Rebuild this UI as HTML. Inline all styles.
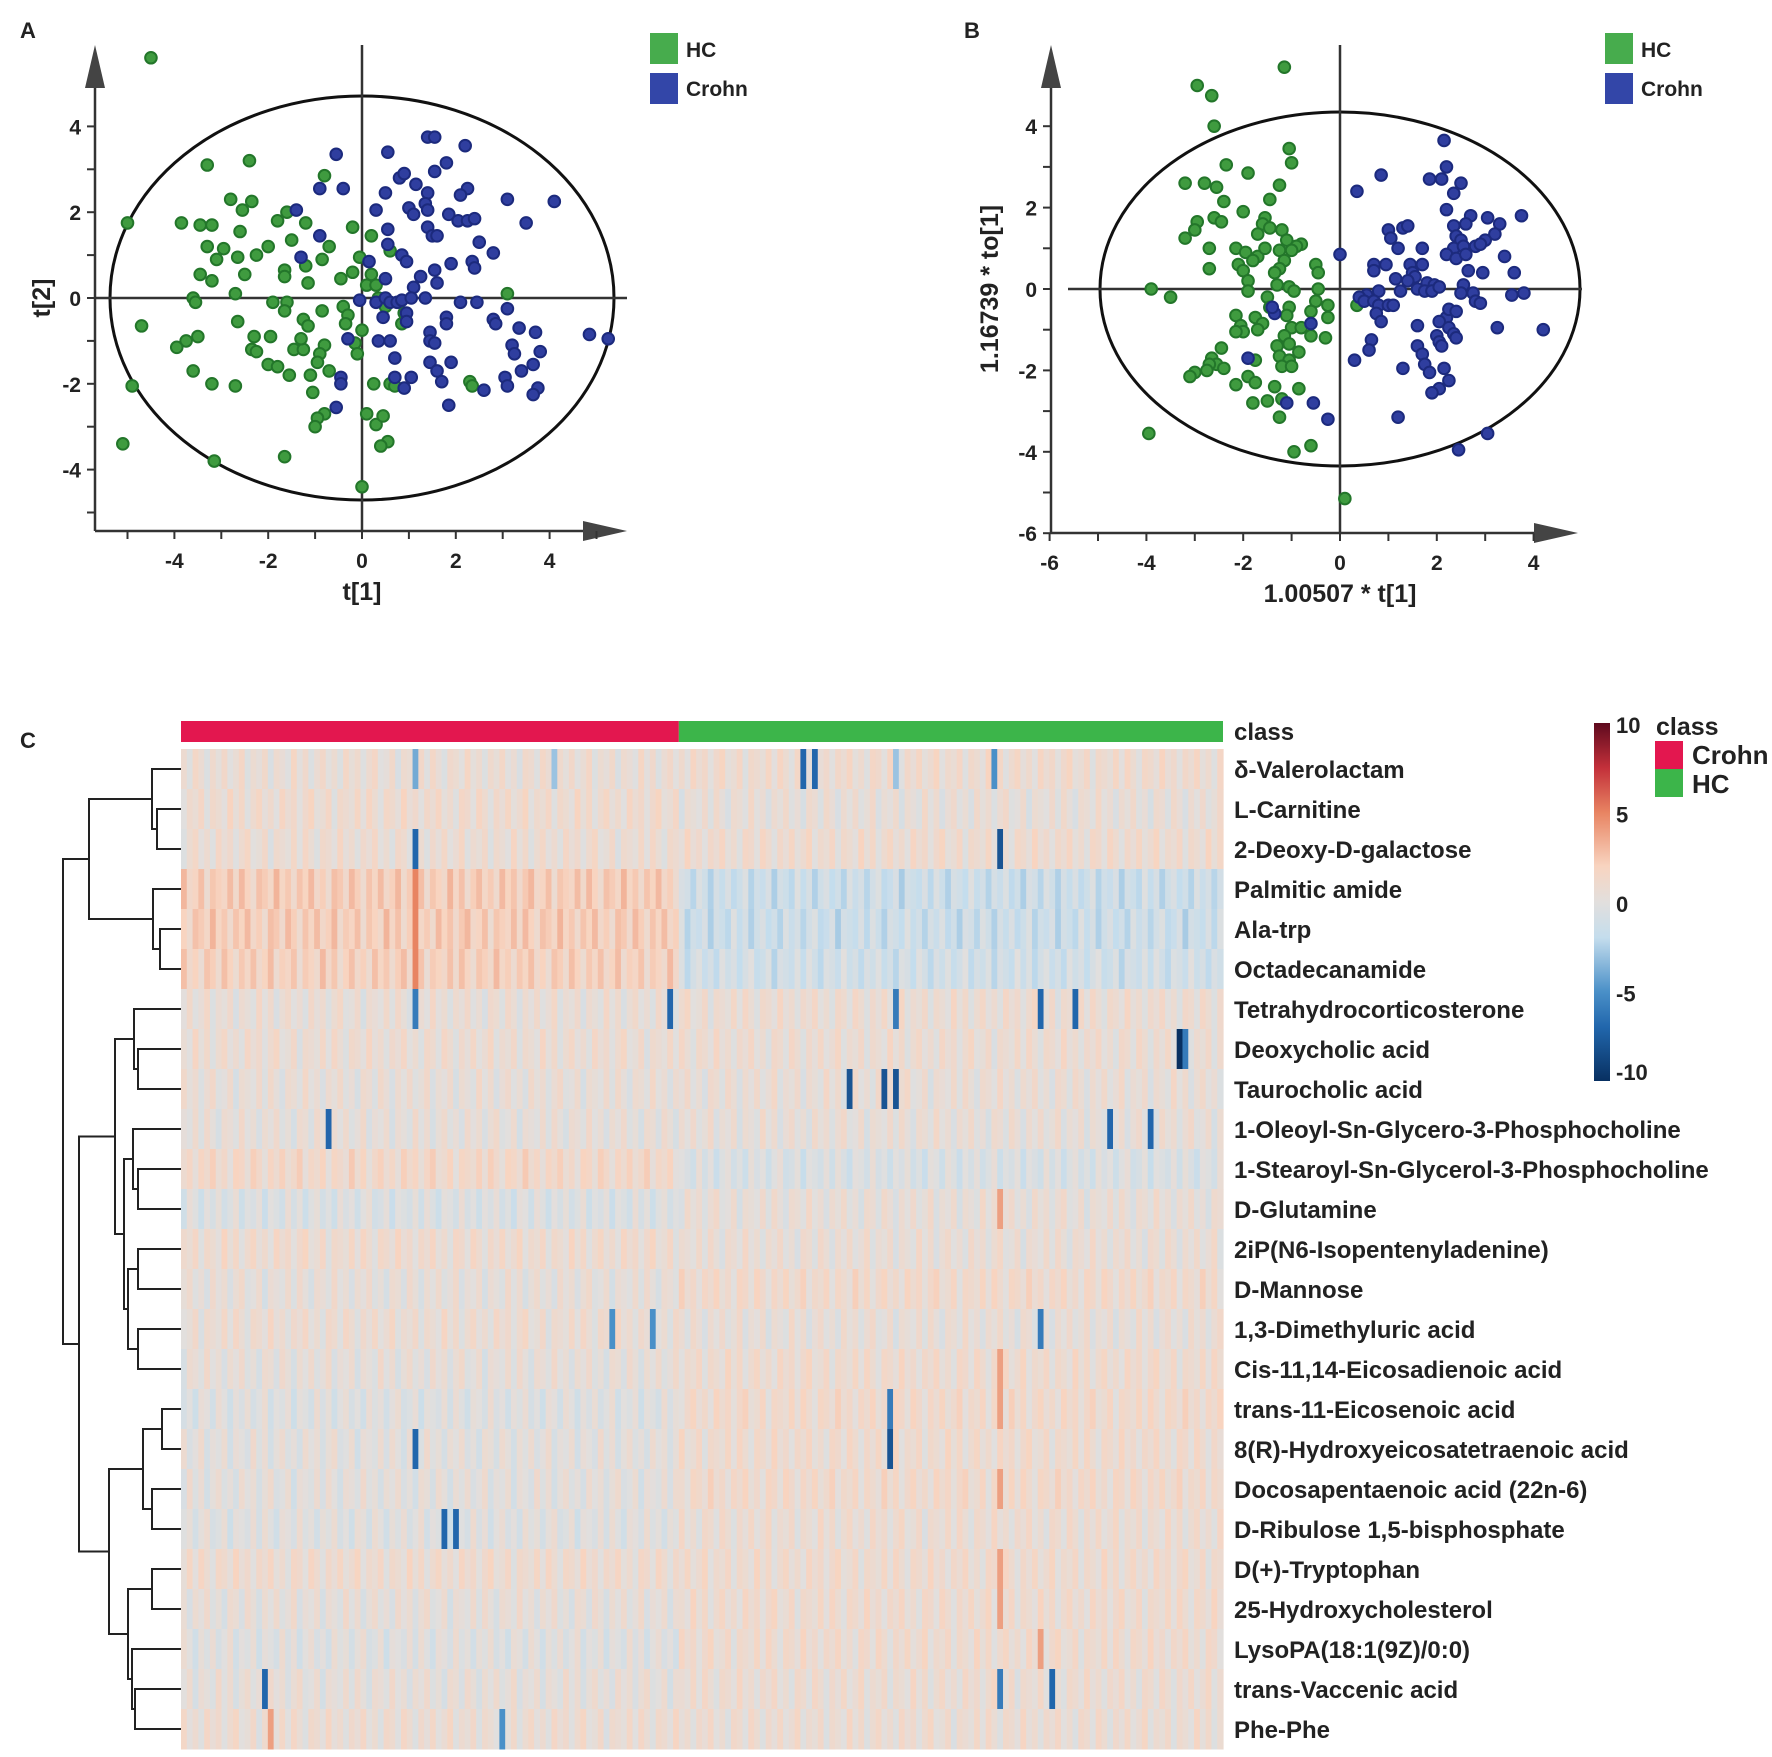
<!DOCTYPE html>
<html><head><meta charset="utf-8">
<style>
html,body{margin:0;padding:0;background:#fff;}
body{width:1772px;height:1757px;overflow:hidden;position:relative;font-family:"Liberation Sans",Arial,sans-serif;}
svg{position:absolute;left:0;top:0;}
text{font-family:"Liberation Sans",Arial,sans-serif;font-weight:bold;fill:#222;}
</style></head>
<body>
<svg id="fig" width="1772" height="1757" viewBox="0 0 1772 1757"></svg>
<script>
// ---------- DATA ----------
const hcA=[[-4.5,5.6],[-5.0,1.75],[-4.9,-2.05],[-5.1,-3.4],[-4.7,-0.65],[-3.3,3.1],[-2.4,3.2],[-2.8,2.3],[-2.35,2.25],[-2.55,2.05],[-3.85,1.75],[-3.45,1.7],[-3.2,1.7],[-1.8,1.8],[-1.6,2.0],[-1.2,1.75],[-0.8,2.85],[-0.2,1.65],[-2.6,1.55],[-3.3,1.2],[-2.95,1.15],[-2.0,1.2],[-1.5,1.35],[-0.7,1.2],[0.2,1.45],[-3.1,0.9],[-2.65,0.95],[-2.25,1.0],[-1.65,0.65],[-1.2,0.75],[-0.85,0.9],[-0.05,0.95],[-3.45,0.55],[-3.2,0.4],[-2.5,0.55],[-1.65,0.5],[-1.15,0.35],[-0.45,0.45],[-0.2,0.6],[0.1,0.3],[0.3,0.3],[0.35,0.0],[-2.7,0.1],[-3.6,0.0],[-3.55,-0.1],[-1.9,-0.1],[-1.6,-0.1],[-1.65,-0.3],[-0.85,-0.3],[-0.4,-0.2],[-0.3,-0.4],[-2.65,-0.55],[-1.25,-0.5],[-1.15,-0.65],[-0.35,-0.6],[0.0,-0.75],[-3.5,-0.9],[-3.75,-1.0],[-3.95,-1.15],[-2.3,-0.9],[-1.95,-0.9],[-2.35,-1.2],[-2.25,-1.25],[-1.45,-1.2],[-1.25,-1.2],[-1.3,-0.95],[-0.8,-1.1],[-0.9,-1.3],[-0.95,-1.5],[-1.1,-1.8],[-0.7,-1.7],[-0.15,-1.05],[-0.1,-1.3],[-2.0,-1.55],[-1.8,-1.6],[-1.55,-1.8],[-3.6,-1.7],[-3.2,-2.0],[-2.7,-2.05],[-1.05,-2.2],[-0.8,-2.7],[-0.95,-2.8],[-1.0,-3.0],[0.1,-2.7],[0.3,-2.95],[0.45,-2.75],[0.55,-3.35],[0.4,-3.45],[-1.65,-3.7],[-3.15,-3.8],[0.0,-4.4],[0.25,-2.0],[0.6,-2.0],[0.7,-2.05],[2.3,-1.95],[2.35,-2.05],[3.1,0.1],[0.85,-0.6],[0.5,-0.2],[0.6,1.1],[0.2,0.55],[0.9,-0.35]];
const crohnA=[[-0.55,3.35],[-0.4,2.55],[-0.9,2.55],[-1.4,2.05],[-0.9,1.45],[-1.3,0.95],[0.15,0.85],[0.3,-0.1],[0.55,3.4],[0.5,2.45],[0.3,2.05],[0.55,1.6],[0.55,1.25],[0.85,1.0],[0.95,0.85],[0.8,2.8],[0.9,2.9],[1.15,2.65],[1.4,2.45],[1.35,2.2],[1.0,2.1],[1.1,1.95],[1.4,2.05],[1.4,1.65],[1.5,1.45],[1.6,1.45],[1.4,3.75],[1.55,3.75],[1.8,3.15],[1.55,2.95],[2.2,3.55],[2.25,2.55],[2.1,2.4],[1.85,1.95],[2.05,1.8],[2.25,1.8],[2.4,1.85],[2.5,1.3],[2.8,1.05],[3.1,2.3],[3.5,1.75],[4.1,2.25],[1.9,0.8],[2.35,0.85],[2.4,0.7],[1.55,0.65],[1.25,0.5],[1.1,0.25],[1.6,0.35],[0.5,0.45],[0.5,0.0],[0.6,-0.1],[0.75,-0.1],[0.85,-0.05],[1.05,0.0],[1.35,0.0],[2.1,-0.1],[2.45,-0.1],[0.95,-0.35],[0.95,-0.55],[0.45,-0.45],[1.45,-0.8],[1.45,-1.0],[1.55,-1.05],[1.8,-0.45],[1.8,-0.6],[2.8,-0.5],[2.85,-0.6],[3.1,-0.25],[3.35,-0.7],[3.7,-0.8],[3.2,-1.1],[3.25,-1.3],[3.8,-1.25],[3.65,-1.55],[3.4,-1.7],[3.05,-1.85],[3.1,-2.05],[3.75,-2.1],[3.65,-2.25],[4.85,-0.85],[5.25,-0.95],[0.35,-1.0],[0.6,-1.0],[0.7,-1.4],[1.45,-1.5],[1.6,-1.7],[1.9,-1.5],[0.7,-1.85],[0.9,-2.1],[1.05,-1.85],[1.7,-1.95],[2.6,-2.15],[1.85,-2.5],[-0.45,-1.85],[-0.45,-2.0],[-0.55,-2.55],[-0.3,-0.95],[-0.05,-0.05]];
const hcB=[[-1.15,5.45],[-2.95,5.0],[-2.65,4.75],[-2.6,4.0],[-1.05,3.45],[-1.0,3.1],[-2.35,3.05],[-1.9,2.85],[-3.2,2.6],[-2.8,2.6],[-2.55,2.5],[-1.25,2.55],[-2.4,2.15],[-1.45,2.2],[-2.6,1.75],[-2.45,1.65],[-2.0,1.9],[-1.55,1.75],[-1.6,1.6],[-2.95,1.65],[-3.0,1.45],[-3.2,1.25],[-1.7,1.35],[-1.45,1.5],[-1.2,1.45],[-1.1,1.2],[-0.8,1.1],[-0.9,1.05],[-1.25,0.95],[-1.0,0.95],[-2.7,1.0],[-2.15,1.0],[-1.95,0.9],[-1.7,0.8],[-1.55,1.0],[-1.8,0.7],[-1.15,0.7],[-1.25,0.5],[-1.35,0.4],[-0.5,0.6],[-0.45,0.4],[-2.7,0.5],[-2.1,0.6],[-2.0,0.45],[-1.9,0.2],[-1.3,0.1],[-1.05,0.05],[-0.95,-0.05],[-0.45,0.0],[-0.5,-0.3],[-0.25,-0.4],[-0.25,-0.7],[-1.9,-0.05],[-1.5,-0.2],[-3.9,0.0],[-3.5,-0.2],[-1.45,-0.45],[-1.05,-0.45],[-0.6,-0.55],[-1.1,-0.65],[-2.15,-0.65],[-1.75,-0.7],[-2.05,-0.9],[-1.6,-0.85],[-2.0,-1.05],[-2.15,-1.05],[-1.7,-1.0],[-1.0,-0.95],[-0.8,-0.95],[-1.15,-1.15],[-0.6,-1.15],[-0.3,-1.2],[-1.3,-1.4],[-1.05,-1.35],[-2.45,-1.45],[-2.65,-1.7],[-2.55,-1.85],[-2.7,-1.85],[-2.4,-1.95],[-2.75,-2.0],[-3.0,-2.05],[-3.1,-2.15],[-1.75,-1.75],[-1.25,-1.65],[-1.05,-1.75],[-0.85,-1.55],[-1.2,-1.9],[-1.0,-1.9],[-1.9,-2.15],[-1.75,-2.3],[-2.15,-2.35],[-1.35,-2.4],[-0.85,-2.45],[-1.5,-2.75],[-1.8,-2.8],[-1.2,-2.7],[-1.25,-3.15],[-0.95,-4.0],[-0.6,-3.85],[-3.95,-3.55],[0.1,-5.15],[0.35,-0.4]];
const crohnB=[[0.0,0.85],[0.35,2.4],[0.85,2.8],[2.15,3.65],[2.2,3.0],[1.85,2.7],[2.1,2.7],[2.5,2.6],[2.35,2.35],[2.2,1.95],[2.7,1.8],[3.05,1.75],[3.75,1.8],[1.0,1.45],[1.3,1.5],[1.4,1.55],[2.35,1.55],[2.6,1.6],[3.3,1.6],[3.2,1.35],[3.0,1.2],[2.4,1.3],[2.5,1.2],[1.05,1.25],[1.2,1.0],[1.7,1.0],[2.35,1.0],[2.55,1.05],[2.8,1.05],[2.9,1.1],[3.4,0.8],[2.2,0.85],[2.4,0.75],[2.6,0.85],[0.95,0.6],[0.7,0.6],[1.45,0.6],[1.7,0.6],[0.7,0.45],[1.5,0.4],[1.55,0.3],[2.65,0.45],[2.95,0.4],[3.6,0.4],[1.15,0.25],[1.4,0.2],[1.8,0.15],[1.95,0.1],[2.55,0.1],[1.6,0.0],[1.75,-0.05],[1.9,-0.05],[2.05,0.05],[2.5,-0.1],[2.75,-0.1],[1.25,-0.05],[0.8,-0.05],[0.55,-0.15],[0.4,-0.2],[0.5,-0.3],[0.7,-0.3],[0.8,-0.4],[1.0,-0.4],[1.1,-0.4],[2.8,-0.3],[2.9,-0.35],[3.55,-0.15],[3.8,-0.1],[0.75,-0.6],[0.85,-0.8],[2.2,-0.7],[2.25,-0.5],[2.4,-0.55],[2.05,-0.8],[2.25,-0.95],[1.6,-0.9],[3.25,-0.95],[4.2,-1.0],[2.0,-1.15],[2.35,-1.1],[2.4,-1.2],[2.05,-1.3],[0.65,-1.25],[0.6,-1.5],[1.6,-1.4],[1.7,-1.6],[2.1,-1.4],[1.75,-1.85],[1.85,-2.05],[2.15,-1.95],[2.25,-2.25],[2.05,-2.45],[1.9,-2.55],[1.3,-1.95],[0.3,-1.75],[1.2,-3.15],[3.05,-3.55],[2.45,-3.95],[-0.25,-3.2],[-0.55,-2.8],[-1.1,-2.8],[-1.9,-1.7],[-1.35,-0.6],[-1.4,-0.45],[-0.6,-0.85]];
const xTicksA=[-4,-2,0,2,4];
const yTicksA=[4,2,0,-2,-4];
const xTicksB=[-6,-4,-2,0,2,4];
const yTicksB=[4,2,0,-2,-4,-6];

const metabolites=["δ-Valerolactam","L-Carnitine","2-Deoxy-D-galactose","Palmitic amide","Ala-trp","Octadecanamide","Tetrahydrocorticosterone","Deoxycholic acid","Taurocholic acid","1-Oleoyl-Sn-Glycero-3-Phosphocholine","1-Stearoyl-Sn-Glycerol-3-Phosphocholine","D-Glutamine","2iP(N6-Isopentenyladenine)","D-Mannose","1,3-Dimethyluric acid","Cis-11,14-Eicosadienoic acid","trans-11-Eicosenoic acid","8(R)-Hydroxyeicosatetraenoic acid","Docosapentaenoic acid (22n-6)","D-Ribulose 1,5-bisphosphate","D(+)-Tryptophan","25-Hydroxycholesterol","LysoPA(18:1(9Z)/0:0)","trans-Vaccenic acid","Phe-Phe"];
const crohnMean=[0.5,0.8,0.6,2.0,2.0,1.8,0.4,0.6,0.3,0.2,1.2,-0.5,0.8,0.2,0.6,0.2,-0.3,0.0,0.0,-0.2,0.8,0.2,-0.2,0.2,0.6];
const hcMean=[0.8,0.3,0.8,-1.5,-1.5,-1.2,0.6,0.6,0.4,0.3,-0.6,0.3,0.4,1.0,0.3,0.8,1.0,0.8,1.0,0.6,0.8,0.8,0.8,0.6,0.6];
const nCrohn=86, nHC=94;
const colTexture=[0.4,-0.8,1.0,0.2,-1.0,0.6,-0.3,0.9,-0.6,0.1,1.1,-0.9,0.3,-0.2,0.8,-1.1,0.5,0.0,-0.7,1.2,-0.4,0.7,-1.0,0.2,0.9,-0.5,0.3,-0.9,1.0,-0.1,0.6,-0.8,0.4,1.1,-0.6,-0.2,0.8,-1.2,0.5,0.1,-0.4,0.9,-0.7,1.0,0.0,-1.0,0.7,0.3,-0.5,1.2,-0.3,0.4,-0.9,0.6,-0.1,1.0,-0.6,0.2,-1.1,0.8];
// outliers: [row, column, value]
const outliers=[[0,40,-4],[0,107,-7],[0,109,-7],[0,140,-5],[0,123,-3],[0,64,-3],[2,40,-7],[2,141,-8],[3,40,5],[4,40,5],[5,40,5],[6,40,-6],[6,84,-7],[6,123,-6],[6,148,-7],[6,154,-7],[7,172,-10],[7,173,-6],[8,115,-8],[8,121,-8],[8,123,-8],[9,25,-7],[9,160,-7],[9,167,-7],[11,141,4],[14,74,-5],[14,81,-5],[14,148,-6],[15,141,4],[16,141,4],[16,122,-6],[17,40,-7],[17,122,-8],[18,141,4],[19,45,-7],[19,47,-7],[20,141,4],[21,141,4],[22,148,4],[23,14,-7],[23,141,-6],[23,150,-7],[24,15,4],[24,55,-5]];
const cbTicks=[10,5,0,-5,-10];

// ---------- HELPERS ----------
const NS="http://www.w3.org/2000/svg";
const svg=document.getElementById('fig');
function mk(tag,attrs,parent){const e=document.createElementNS(NS,tag);for(const k in attrs)e.setAttribute(k,attrs[k]);(parent||svg).appendChild(e);return e;}
function txt(x,y,s,size,anchor,parent){const t=mk('text',{x:x,y:y,'font-size':size,'text-anchor':anchor||'start'},parent);t.textContent=s;return t;}

// ---------- SCATTER PANELS ----------
function scatterPanel(cfg){
  const g=mk('g',{});
  
  
  const X=v=>cfg.x0+v*cfg.ux, Y=v=>cfg.y0-v*cfg.uy;
  const el=mk('ellipse',{cx:cfg.x0,cy:cfg.y0,rx:cfg.rx,ry:cfg.ry,fill:'none',stroke:'#111','stroke-width':3},g);
  
  
  mk('line',{x1:cfg.hx1,y1:cfg.y0,x2:cfg.hx2,y2:cfg.y0,stroke:'#333','stroke-width':2.5},g);
  mk('line',{x1:cfg.x0,y1:45,x2:cfg.x0,y2:cfg.axY,stroke:'#333','stroke-width':2.5},g);
  const ax=mk('g',{},g);
  
  
  mk('line',{x1:cfg.axX,y1:62,x2:cfg.axX,y2:cfg.axY,stroke:'#333','stroke-width':2.5},ax);
  mk('line',{x1:cfg.axX,y1:cfg.axY,x2:cfg.arrowX-20,y2:cfg.axY,stroke:'#333','stroke-width':2.5},ax);
  mk('polygon',{points:`${cfg.axX-10},88 ${cfg.axX},45 ${cfg.axX+10},88`,fill:'#444'},ax);
  mk('polygon',{points:`${cfg.arrowX-44},${cfg.axY-10} ${cfg.arrowX},${cfg.axY} ${cfg.arrowX-44},${cfg.axY+10}`,fill:'#444'},ax);
  for(let v=cfg.xmin;v<=cfg.xmax;v++){mk('line',{x1:X(v),y1:cfg.axY,x2:X(v),y2:cfg.axY+8,stroke:'#333','stroke-width':2},ax);}
  for(let v=cfg.ymin;v<=cfg.ymax;v++){mk('line',{x1:cfg.axX-8,y1:Y(v),x2:cfg.axX,y2:Y(v),stroke:'#333','stroke-width':2},ax);}
  cfg.xt.forEach(v=>{const t=txt(X(v),cfg.axY+37,String(v),21,'middle',ax);});
  cfg.yt.forEach(v=>{const t=txt(cfg.axX-14,Y(v)+8,String(v),21,'end',ax);});
  const xt=txt(cfg.x0,cfg.axY+69,cfg.xTitle,25,'middle',g);
  
  
  const yt=txt(0,0,cfg.yTitle,25,'middle',g);
  yt.setAttribute('transform',`translate(${cfg.yTitleX},${cfg.y0}) rotate(-90)`);
  
  
  const series=[[cfg.hc,'#3f9b3f','#23762a','hc-points'],[cfg.cr,'#2f3e9f','#1c2a7d','crohn-points']];
  series.forEach(s=>{
    const sg=mk('g',{},g);
    
    
    s[0].forEach(p=>{const c=mk('circle',{cx:X(p[0]),cy:Y(p[1]),r:5.8,fill:s[1],stroke:s[2],'stroke-width':2},sg);
      
      });
  });
  const lg=mk('g',{},g);
  
  
  mk('rect',{x:cfg.lx,y:33,width:28,height:31,fill:'#47ac4d'},lg);
  mk('rect',{x:cfg.lx,y:73,width:28,height:31,fill:'#3346a8'},lg);
  txt(cfg.lx+36,57,'HC',21,'start',lg);
  txt(cfg.lx+36,96,'Crohn',21,'start',lg);
  const pl=txt(cfg.letterX,38,cfg.letter,22,'start',g);
  
  
}
scatterPanel({name:'panel-a-pca-scores',letter:'A',letterX:20,x0:362,ux:46.9,y0:298,uy:42.9,rx:252,ry:202,hx1:95,hx2:627,axX:95,axY:531,arrowX:627,
  xmin:-5,xmax:5,ymin:-5,ymax:4,xt:xTicksA,yt:yTicksA,xTitle:'t[1]',yTitle:'t[2]',yTitleX:50,hc:hcA,cr:crohnA,lx:650});
scatterPanel({name:'panel-b-oplsda-scores',letter:'B',letterX:964,x0:1340,ux:48.4,y0:289,uy:40.7,rx:240,ry:177,hx1:1068,hx2:1582,axX:1051,axY:533,arrowX:1578,
  xmin:-6,xmax:4,ymin:-6,ymax:4,xt:xTicksB,yt:yTicksB,xTitle:'1.00507 * t[1]',yTitle:'1.16739 * to[1]',yTitleX:998,hc:hcB,cr:crohnB,lx:1605});

// ---------- HEATMAP ----------
const stops=[[-10,[8,48,97]],[-7,[33,102,172]],[-5,[74,144,200]],[-2,[196,221,237]],[0,[226,223,221]],[2,[248,212,192]],[5,[232,132,98]],[7.5,[195,48,58]],[10,[94,10,30]]];
function color(v){v=Math.max(-10,Math.min(10,v));for(let i=0;i<stops.length-1;i++){const a=stops[i],b=stops[i+1];if(v<=b[0]){const t=(v-a[0])/(b[0]-a[0]);const c=a[1].map((q,k)=>Math.round(q+(b[1][k]-q)*t));return `rgb(${c[0]},${c[1]},${c[2]})`;}}return 'rgb(94,10,30)';}
const hmX0=181,hmX1=1223,hmY0=749,rowH=40,nCol=nCrohn+nHC;
const colW=(hmX1-hmX0)/nCol;
const hm=mk('g',{});


const outMap={};outliers.forEach(o=>{outMap[o[0]+'_'+o[1]]=o[2];});
for(let r=0;r<metabolites.length;r++){
  for(let c=0;c<nCol;c++){
    const base=c<nCrohn?crohnMean[r]:hcMean[r];
    let v=base+colTexture[(c+r*11)%colTexture.length]*1.0;
    const k=r+'_'+c; if(k in outMap) v=outMap[k];
    const cell=mk('rect',{x:(hmX0+c*colW).toFixed(2),y:hmY0+r*rowH,width:(colW+0.6).toFixed(2),height:rowH+0.5,fill:color(v)},hm);
    
    
  }
  const lab=txt(1234,hmY0+r*rowH+29,metabolites[r],24,'start');
  
  
}
const splitX=hmX0+nCrohn*colW;
const cb1=mk('rect',{x:hmX0,y:721,width:splitX-hmX0,height:21,fill:'#e3174f'});


const cb2=mk('rect',{x:splitX,y:721,width:hmX1-splitX,height:21,fill:'#3cb54a'});


const classLab=txt(1234,740,'class',24,'start');


const cl=txt(20,748,'C',22,'start');



const leafY=i=>hmY0+i*rowH+rowH/2;
const tree=[63,[89,[152,0,[157,1,2]],[153,3,[160,4,5]]],[79,[115,[134,6,[138,7,8]],[124,[133,9,[138,10,11]],[128,[138,12,13],[138,14,15]]]],[109,[143,[162,16,17],[152,18,19]],[128,[152,20,21],[132,22,[135,23,24]]]]]];
const dg=mk('g',{});


function drawNode(n){
  if(typeof n==='number') return {x:hmX0,y:leafY(n)};
  const a=drawNode(n[1]),b=drawNode(n[2]);const x=n[0];
  mk('path',{d:`M${a.x},${a.y}H${x}V${b.y}H${b.x}`,fill:'none',stroke:'#222','stroke-width':2},dg);
  return {x:x,y:(a.y+b.y)/2};
}
drawNode(tree);

const cbg=mk('g',{});


const cbTop=723,cbBot=1081,cbX=1594,cbW=16;
const defs=mk('defs',{});
const lgd=mk('linearGradient',{id:'cbgrad',x1:0,y1:1,x2:0,y2:0},defs);
stops.forEach(s=>{const c=s[1];mk('stop',{offset:((s[0]+10)/20*100)+'%','stop-color':`rgb(${c[0]},${c[1]},${c[2]})`},lgd);});
mk('rect',{x:cbX,y:cbTop,width:cbW,height:cbBot-cbTop,fill:'url(#cbgrad)'},cbg);
const cbY=v=>cbBot-(v+10)/20*(cbBot-cbTop);
cbTicks.forEach(v=>{const t=txt(cbX+cbW+6,Math.min(cbY(v)+10,1080),String(v),22,'start',cbg);});
const clg=mk('g',{});


txt(1656,735,'class',25,'start',clg);
mk('rect',{x:1655,y:741,width:28,height:28,fill:'#e3174f'},clg);
mk('rect',{x:1655,y:769,width:28,height:28,fill:'#3cb54a'},clg);
txt(1692,764,'Crohn',26,'start',clg);
txt(1692,793,'HC',26,'start',clg);
</script>
</body></html>
